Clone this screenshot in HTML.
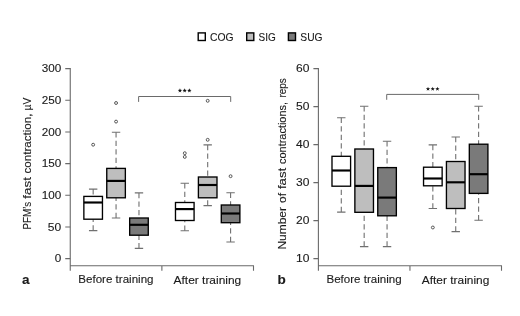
<!DOCTYPE html>
<html><head><meta charset="utf-8"><title>Chart</title>
<style>
html,body{margin:0;padding:0;background:#fff;}
body{width:520px;height:316px;overflow:hidden;}
svg{display:block;}
.t{font-family:"Liberation Sans",sans-serif;font-size:11.3px;fill:#1a1a1a;stroke:#1a1a1a;stroke-width:0.12px;}
.b{font-weight:bold;font-size:13.5px;}
</style></head><body>
<svg width="520" height="316" viewBox="0 0 520 316">
<rect width="520" height="316" fill="#fff"/>
<g opacity="0.999">
<path d="M70.25 68.10V270.70M69.75 265.70H254.00M161.88 265.70v5.1M253.50 265.70v5.1" stroke="#6a6a6a" stroke-width="1.1" fill="none"/>
<path d="M65.25 258.60H70.25M65.25 226.93H70.25M65.25 195.27H70.25M65.25 163.60H70.25M65.25 131.93H70.25M65.25 100.27H70.25M65.25 68.60H70.25" stroke="#6a6a6a" stroke-width="1.1" fill="none"/>
<text x="54.75" y="262.40" class="t" textLength="6.5" lengthAdjust="spacingAndGlyphs">0</text>
<text x="47.85" y="230.73" class="t" textLength="13.4" lengthAdjust="spacingAndGlyphs">50</text>
<text x="41.75" y="199.07" class="t" textLength="19.5" lengthAdjust="spacingAndGlyphs">100</text>
<text x="41.75" y="167.40" class="t" textLength="19.5" lengthAdjust="spacingAndGlyphs">150</text>
<text x="41.75" y="135.73" class="t" textLength="19.5" lengthAdjust="spacingAndGlyphs">200</text>
<text x="41.75" y="104.07" class="t" textLength="19.5" lengthAdjust="spacingAndGlyphs">250</text>
<text x="41.75" y="72.40" class="t" textLength="19.5" lengthAdjust="spacingAndGlyphs">300</text>
<path d="M93.16 189.10V196.40M93.16 230.60V219.20" stroke="#707070" stroke-width="1.1" stroke-dasharray="5.3 3.2" fill="none"/>
<path d="M88.96 189.10h8.4M88.96 230.60h8.4" stroke="#707070" stroke-width="1.1" fill="none"/>
<rect x="83.86" y="196.40" width="18.6" height="22.80" fill="#fff" stroke="#000" stroke-width="1.35"/>
<path d="M83.86 202.50h18.6" stroke="#000" stroke-width="2.15"/>
<circle cx="93.16" cy="144.70" r="1.45" fill="#fff" stroke="#444" stroke-width="0.9"/>
<path d="M116.06 132.20V168.40M116.06 218.00V197.80" stroke="#707070" stroke-width="1.1" stroke-dasharray="5.3 3.2" fill="none"/>
<path d="M111.86 132.20h8.4M111.86 218.00h8.4" stroke="#707070" stroke-width="1.1" fill="none"/>
<rect x="106.76" y="168.40" width="18.6" height="29.40" fill="#bebebe" stroke="#000" stroke-width="1.35"/>
<path d="M106.76 180.90h18.6" stroke="#000" stroke-width="2.15"/>
<circle cx="116.06" cy="103.00" r="1.45" fill="#fff" stroke="#444" stroke-width="0.9"/>
<circle cx="116.06" cy="121.60" r="1.45" fill="#fff" stroke="#444" stroke-width="0.9"/>
<path d="M138.97 192.90V218.00M138.97 248.40V235.20" stroke="#707070" stroke-width="1.1" stroke-dasharray="5.3 3.2" fill="none"/>
<path d="M134.77 192.90h8.4M134.77 248.40h8.4" stroke="#707070" stroke-width="1.1" fill="none"/>
<rect x="129.67" y="218.00" width="18.6" height="17.20" fill="#7a7a7a" stroke="#000" stroke-width="1.35"/>
<path d="M129.67 224.80h18.6" stroke="#000" stroke-width="2.15"/>
<path d="M184.78 183.30V202.50M184.78 230.70V220.50" stroke="#707070" stroke-width="1.1" stroke-dasharray="5.3 3.2" fill="none"/>
<path d="M180.58 183.30h8.4M180.58 230.70h8.4" stroke="#707070" stroke-width="1.1" fill="none"/>
<rect x="175.48" y="202.50" width="18.6" height="18.00" fill="#fff" stroke="#000" stroke-width="1.35"/>
<path d="M175.48 209.10h18.6" stroke="#000" stroke-width="2.15"/>
<circle cx="184.78" cy="153.20" r="1.45" fill="#fff" stroke="#444" stroke-width="0.9"/>
<circle cx="184.78" cy="156.90" r="1.45" fill="#fff" stroke="#444" stroke-width="0.9"/>
<path d="M207.69 144.90V177.00M207.69 205.60V197.80" stroke="#707070" stroke-width="1.1" stroke-dasharray="5.3 3.2" fill="none"/>
<path d="M203.49 144.90h8.4M203.49 205.60h8.4" stroke="#707070" stroke-width="1.1" fill="none"/>
<rect x="198.39" y="177.00" width="18.6" height="20.80" fill="#bebebe" stroke="#000" stroke-width="1.35"/>
<path d="M198.39 185.00h18.6" stroke="#000" stroke-width="2.15"/>
<circle cx="207.69" cy="100.80" r="1.45" fill="#fff" stroke="#444" stroke-width="0.9"/>
<circle cx="207.69" cy="139.80" r="1.45" fill="#fff" stroke="#444" stroke-width="0.9"/>
<path d="M230.59 192.80V205.00M230.59 242.00V222.70" stroke="#707070" stroke-width="1.1" stroke-dasharray="5.3 3.2" fill="none"/>
<path d="M226.39 192.80h8.4M226.39 242.00h8.4" stroke="#707070" stroke-width="1.1" fill="none"/>
<rect x="221.29" y="205.00" width="18.6" height="17.70" fill="#7a7a7a" stroke="#000" stroke-width="1.35"/>
<path d="M221.29 213.50h18.6" stroke="#000" stroke-width="2.15"/>
<circle cx="230.59" cy="176.20" r="1.45" fill="#fff" stroke="#444" stroke-width="0.9"/>
<path d="M138.62 101.90V96.50H230.69V101.90" stroke="#6a6a6a" stroke-width="1.0" fill="none"/>
<polygon points="179.96,88.35 180.51,89.83 182.10,89.90 180.86,90.89 181.28,92.42 179.96,91.55 178.63,92.42 179.05,90.89 177.82,89.90 179.40,89.83" fill="#111"/>
<polygon points="184.66,88.35 185.21,89.83 186.80,89.90 185.56,90.89 185.98,92.42 184.66,91.55 183.33,92.42 183.75,90.89 182.52,89.90 184.10,89.83" fill="#111"/>
<polygon points="189.36,88.35 189.91,89.83 191.50,89.90 190.26,90.89 190.68,92.42 189.36,91.55 188.03,92.42 188.45,90.89 187.22,89.90 188.80,89.83" fill="#111"/>
<path d="M318.40 68.10V270.70M317.90 265.70H502.00M409.95 265.70v5.1M501.50 265.70v5.1" stroke="#6a6a6a" stroke-width="1.1" fill="none"/>
<path d="M313.40 258.60H318.40M313.40 220.60H318.40M313.40 182.60H318.40M313.40 144.60H318.40M313.40 106.60H318.40M313.40 68.60H318.40" stroke="#6a6a6a" stroke-width="1.1" fill="none"/>
<text x="296.00" y="262.40" class="t" textLength="13.4" lengthAdjust="spacingAndGlyphs">10</text>
<text x="296.00" y="224.40" class="t" textLength="13.4" lengthAdjust="spacingAndGlyphs">20</text>
<text x="296.00" y="186.40" class="t" textLength="13.4" lengthAdjust="spacingAndGlyphs">30</text>
<text x="296.00" y="148.40" class="t" textLength="13.4" lengthAdjust="spacingAndGlyphs">40</text>
<text x="296.00" y="110.40" class="t" textLength="13.4" lengthAdjust="spacingAndGlyphs">50</text>
<text x="296.00" y="72.40" class="t" textLength="13.4" lengthAdjust="spacingAndGlyphs">60</text>
<path d="M341.29 117.70V156.30M341.29 212.10V186.20" stroke="#707070" stroke-width="1.1" stroke-dasharray="5.3 3.2" fill="none"/>
<path d="M337.09 117.70h8.4M337.09 212.10h8.4" stroke="#707070" stroke-width="1.1" fill="none"/>
<rect x="331.99" y="156.30" width="18.6" height="29.90" fill="#fff" stroke="#000" stroke-width="1.35"/>
<path d="M331.99 170.50h18.6" stroke="#000" stroke-width="2.15"/>
<path d="M364.17 106.20V149.00M364.17 246.60V212.30" stroke="#707070" stroke-width="1.1" stroke-dasharray="5.3 3.2" fill="none"/>
<path d="M359.97 106.20h8.4M359.97 246.60h8.4" stroke="#707070" stroke-width="1.1" fill="none"/>
<rect x="354.87" y="149.00" width="18.6" height="63.30" fill="#bebebe" stroke="#000" stroke-width="1.35"/>
<path d="M354.87 185.90h18.6" stroke="#000" stroke-width="2.15"/>
<path d="M387.06 141.30V167.60M387.06 246.60V215.80" stroke="#707070" stroke-width="1.1" stroke-dasharray="5.3 3.2" fill="none"/>
<path d="M382.86 141.30h8.4M382.86 246.60h8.4" stroke="#707070" stroke-width="1.1" fill="none"/>
<rect x="377.76" y="167.60" width="18.6" height="48.20" fill="#7a7a7a" stroke="#000" stroke-width="1.35"/>
<path d="M377.76 197.60h18.6" stroke="#000" stroke-width="2.15"/>
<path d="M432.84 144.90V167.20M432.84 208.50V185.80" stroke="#707070" stroke-width="1.1" stroke-dasharray="5.3 3.2" fill="none"/>
<path d="M428.64 144.90h8.4M428.64 208.50h8.4" stroke="#707070" stroke-width="1.1" fill="none"/>
<rect x="423.54" y="167.20" width="18.6" height="18.60" fill="#fff" stroke="#000" stroke-width="1.35"/>
<path d="M423.54 178.50h18.6" stroke="#000" stroke-width="2.15"/>
<circle cx="432.84" cy="227.50" r="1.45" fill="#fff" stroke="#444" stroke-width="0.9"/>
<path d="M455.73 137.00V161.50M455.73 231.60V208.50" stroke="#707070" stroke-width="1.1" stroke-dasharray="5.3 3.2" fill="none"/>
<path d="M451.53 137.00h8.4M451.53 231.60h8.4" stroke="#707070" stroke-width="1.1" fill="none"/>
<rect x="446.43" y="161.50" width="18.6" height="47.00" fill="#bebebe" stroke="#000" stroke-width="1.35"/>
<path d="M446.43 182.30h18.6" stroke="#000" stroke-width="2.15"/>
<path d="M478.61 106.30V144.20M478.61 220.30V193.40" stroke="#707070" stroke-width="1.1" stroke-dasharray="5.3 3.2" fill="none"/>
<path d="M474.41 106.30h8.4M474.41 220.30h8.4" stroke="#707070" stroke-width="1.1" fill="none"/>
<rect x="469.31" y="144.20" width="18.6" height="49.20" fill="#7a7a7a" stroke="#000" stroke-width="1.35"/>
<path d="M469.31 174.20h18.6" stroke="#000" stroke-width="2.15"/>
<path d="M386.71 99.80V94.40H478.71V99.80" stroke="#6a6a6a" stroke-width="1.0" fill="none"/>
<polygon points="428.01,86.65 428.57,88.13 430.15,88.20 428.92,89.19 429.34,90.72 428.01,89.85 426.69,90.72 427.11,89.19 425.87,88.20 427.45,88.13" fill="#111"/>
<polygon points="432.71,86.65 433.27,88.13 434.85,88.20 433.62,89.19 434.04,90.72 432.71,89.85 431.39,90.72 431.81,89.19 430.57,88.20 432.15,88.13" fill="#111"/>
<polygon points="437.41,86.65 437.97,88.13 439.55,88.20 438.32,89.19 438.74,90.72 437.41,89.85 436.09,90.72 436.51,89.19 435.27,88.20 436.85,88.13" fill="#111"/>
<text x="78.3" y="283.4" class="t" textLength="75.2" lengthAdjust="spacingAndGlyphs">Before training</text>
<text x="173.6" y="283.5" class="t" textLength="67.6" lengthAdjust="spacingAndGlyphs">After training</text>
<text x="326.5" y="283.4" class="t" textLength="75.1" lengthAdjust="spacingAndGlyphs">Before training</text>
<text x="421.8" y="283.6" class="t" textLength="67.5" lengthAdjust="spacingAndGlyphs">After training</text>
<text x="22.1" y="283.8" class="t b">a</text>
<text x="277.6" y="283.8" class="t b">b</text>
<text transform="translate(30.9 229.61) rotate(-90)" class="t" textLength="27.74" lengthAdjust="spacingAndGlyphs">PFM’s</text>
<text transform="translate(30.9 198.67) rotate(-90)" class="t" textLength="21.75" lengthAdjust="spacingAndGlyphs">fast</text>
<text transform="translate(30.9 173.50) rotate(-90)" class="t" textLength="59.89" lengthAdjust="spacingAndGlyphs">contraction,</text>
<text transform="translate(30.9 110.50) rotate(-90)" class="t" textLength="12.85" lengthAdjust="spacingAndGlyphs">µV</text>
<text transform="translate(285.9 249.51) rotate(-90)" class="t" textLength="42.51" lengthAdjust="spacingAndGlyphs">Number</text>
<text transform="translate(285.9 202.90) rotate(-90)" class="t" textLength="9.89" lengthAdjust="spacingAndGlyphs">of</text>
<text transform="translate(285.9 189.09) rotate(-90)" class="t" textLength="21.32" lengthAdjust="spacingAndGlyphs">fast</text>
<text transform="translate(285.9 164.00) rotate(-90)" class="t" textLength="62.07" lengthAdjust="spacingAndGlyphs">contractions,</text>
<text transform="translate(285.9 97.50) rotate(-90)" class="t" textLength="19.31" lengthAdjust="spacingAndGlyphs">reps</text>
<rect x="198.20" y="32.9" width="7.1" height="7.6" fill="#fff" stroke="#000" stroke-width="1.4"/>
<text x="210.0" y="40.7" class="t" style="font-size:11.8px" textLength="23.6" lengthAdjust="spacingAndGlyphs">COG</text>
<rect x="246.70" y="32.9" width="7.1" height="7.6" fill="#bebebe" stroke="#000" stroke-width="1.4"/>
<text x="258.5" y="40.7" class="t" style="font-size:11.8px" textLength="17.2" lengthAdjust="spacingAndGlyphs">SIG</text>
<rect x="288.40" y="32.9" width="7.1" height="7.6" fill="#7a7a7a" stroke="#000" stroke-width="1.4"/>
<text x="300.3" y="40.7" class="t" style="font-size:11.8px" textLength="22.2" lengthAdjust="spacingAndGlyphs">SUG</text>
</g>
</svg>
</body></html>
